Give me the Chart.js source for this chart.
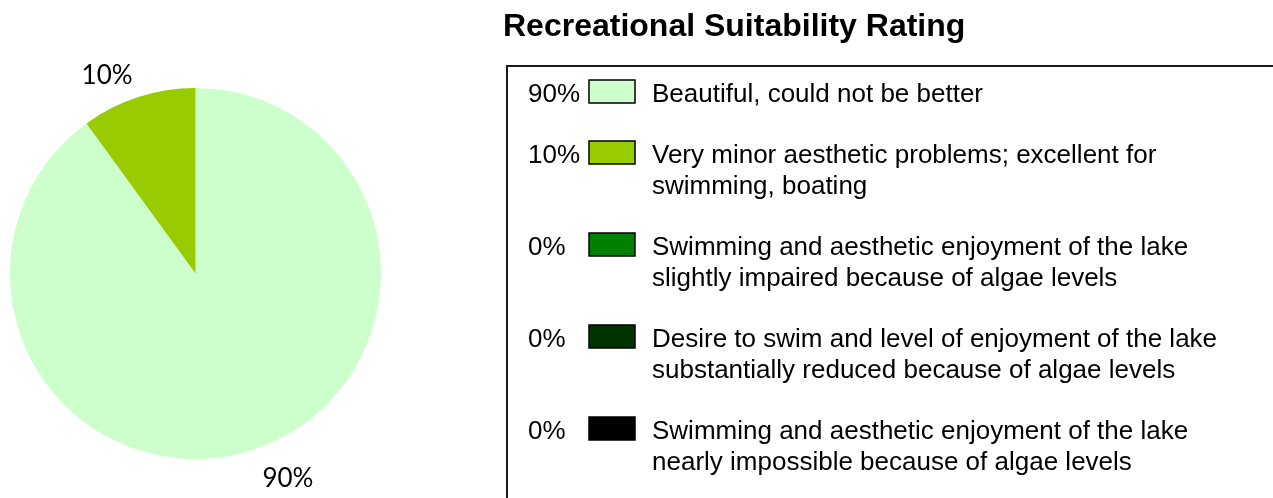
<!DOCTYPE html>
<html>
<head>
<meta charset="utf-8">
<title>Recreational Suitability Rating</title>
<script src="https://cdn.jsdelivr.net/npm/chart.js@4.4.1/dist/chart.umd.min.js"></script>
<style>
  html, body { margin: 0; padding: 0; background: #fff; }
  #wrap { position: relative; width: 1273px; height: 498px; }
</style>
</head>
<body>
<div id="wrap"><canvas id="ratingChart" width="1273" height="498"></canvas></div>
<script>
const chartTitle = 'Recreational Suitability Rating';
const categories = [
  'Beautiful, could not be better',
  'Very minor aesthetic problems; excellent for swimming, boating',
  'Swimming and aesthetic enjoyment of the lake slightly impaired because of algae levels',
  'Desire to swim and level of enjoyment of the lake substantially reduced because of algae levels',
  'Swimming and aesthetic enjoyment of the lake nearly impossible because of algae levels'
];
// how each legend entry wraps in the reference
const legendLines = [
  ['Beautiful, could not be better'],
  ['Very minor aesthetic problems; excellent for', 'swimming, boating'],
  ['Swimming and aesthetic enjoyment of the lake', 'slightly impaired because of algae levels'],
  ['Desire to swim and level of enjoyment of the lake', 'substantially reduced because of algae levels'],
  ['Swimming and aesthetic enjoyment of the lake', 'nearly impossible because of algae levels']
];
const shares = [90, 10, 0, 0, 0];
const sliceColors = ['#ccffcc', '#99cc00', '#008000', '#003300', '#000000'];

const pct = v => v + '%';

// percent labels just outside the pie
const sliceLabels = {
  id: 'sliceLabels',
  afterDatasetsDraw(chart) {
    const ctx = chart.ctx;
    const meta = chart.getDatasetMeta(0);
    ctx.save();
    ctx.font = '26px Lato, "Open Sans", sans-serif';
    ctx.fillStyle = '#000';
    ctx.textAlign = 'center';
    ctx.textBaseline = 'middle';
    meta.data.forEach((arc, i) => {
      const v = chart.data.datasets[0].data[i];
      if (!v) return;
      const p = arc.getProps(['x', 'y', 'startAngle', 'endAngle', 'outerRadius'], true);
      const mid = (p.startAngle + p.endAngle) / 2;
      const d = p.outerRadius + 18;
      const px = p.x + Math.cos(mid) * d;
      const py = p.y + Math.sin(mid) * d;
      const w = ctx.measureText(pct(v)).width;
      const h = 16;
      ctx.fillText(pct(v), px + Math.sign(Math.cos(mid)) * (w / 2 + 2) + 2, py + Math.sign(Math.sin(mid)) * h / 2 + 4);
    });
    ctx.restore();
  }
};

// title and boxed legend on the right
const sideLegend = {
  id: 'sideLegend',
  afterDraw(chart) {
    const ctx = chart.ctx;
    const ds = chart.data.datasets[0];
    ctx.save();
    ctx.fillStyle = '#000';
    ctx.textBaseline = 'middle';
    ctx.font = 'bold 32px "Liberation Sans", Arial, sans-serif';
    ctx.fillText(chartTitle, 503, 27);

    ctx.strokeStyle = '#1a1a1a';
    ctx.lineWidth = 2;
    ctx.strokeRect(507, 66, 900, 500);

    ctx.font = '26px "Liberation Sans", Arial, sans-serif';
    const lineH = 31;
    let y = 95;
    legendLines.forEach((lines, i) => {
      ctx.fillStyle = '#000';
      ctx.fillText(pct(ds.data[i]), 528, y);
      ctx.fillStyle = ds.backgroundColor[i];
      ctx.fillRect(589, y - 15, 46, 23);
      ctx.strokeStyle = '#000';
      ctx.lineWidth = 1.5;
      ctx.strokeRect(589, y - 15, 46, 23);
      ctx.fillStyle = '#000';
      lines.forEach((t, j) => ctx.fillText(t, 652, y + j * lineH));
      y += (lines.length - 1) * lineH + 61;
    });
    ctx.restore();
  }
};

new Chart(document.getElementById('ratingChart'), {
  type: 'pie',
  data: {
    labels: categories,
    datasets: [{
      data: shares,
      backgroundColor: sliceColors,
      borderWidth: 0
    }]
  },
  options: {
    responsive: false,
    devicePixelRatio: 1,
    animation: false,
    layout: { padding: { left: 10, top: 88, right: 892, bottom: 39 } },
    plugins: {
      legend: { display: false },
      tooltip: { enabled: false }
    }
  },
  plugins: [sliceLabels, sideLegend]
});
</script>
</body>
</html>
